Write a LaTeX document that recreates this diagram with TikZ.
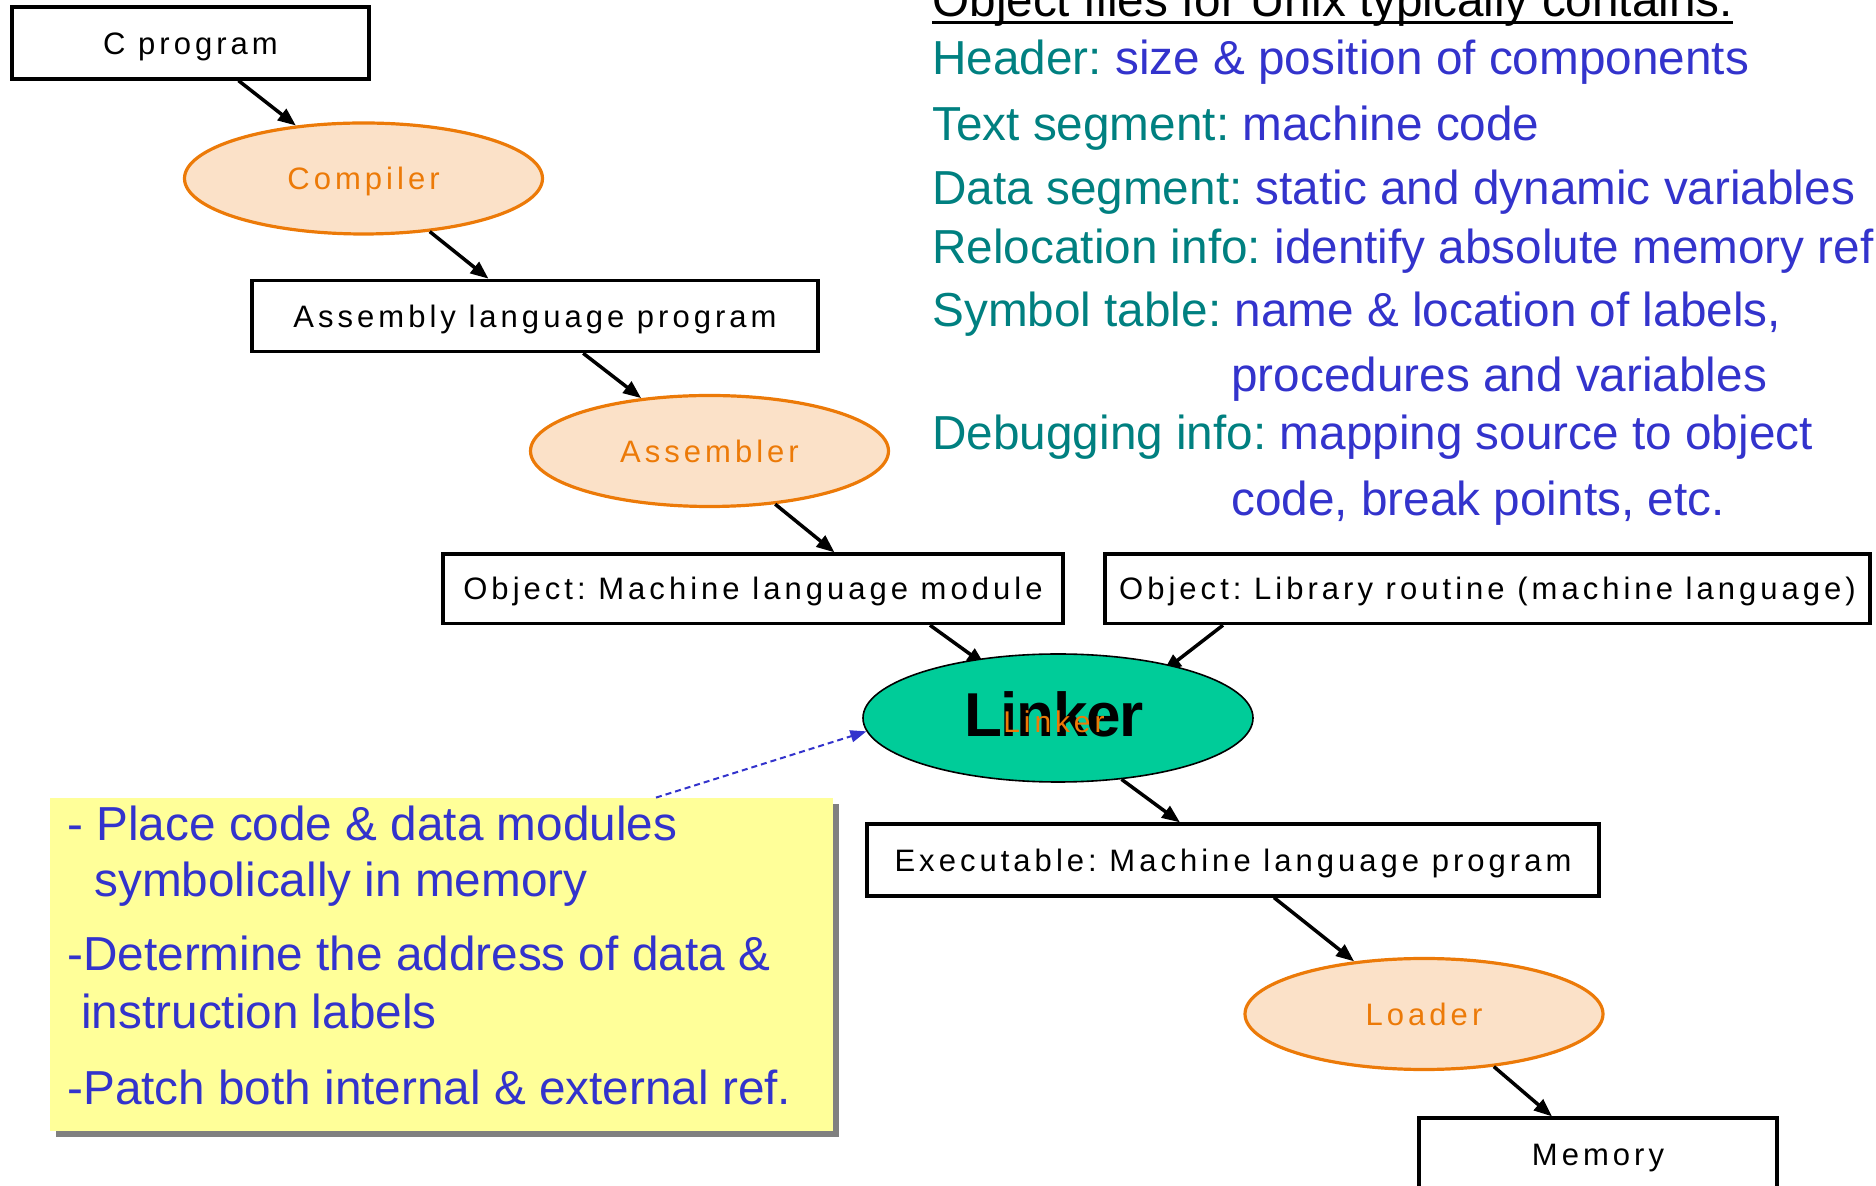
\documentclass[tikz,border=0pt]{standalone}
\usepackage{fontspec}
\setmainfont{Liberation Sans}
\newfontfamily\labelfont[LetterSpace=13]{Liberation Sans}
\newfontfamily\bigfont[LetterSpace=-2]{Liberation Sans}
\usetikzlibrary{arrows.meta,shapes.geometric,shadows}
\pgfdeclarelayer{background}
\pgfsetlayers{background,main}
\definecolor{hdrteal}{RGB}{0,128,128}
\definecolor{txtblue}{RGB}{51,51,204}
\definecolor{orng}{RGB}{236,122,8}
\definecolor{peach}{RGB}{251,225,200}
\definecolor{lnkgreen}{RGB}{0,204,153}
\definecolor{notey}{RGB}{255,255,153}
\frenchspacing
\begin{document}
\begin{tikzpicture}[x=0.5pt,y=-0.5pt,
  labeltext/.style={font=\labelfont\fontsize{15.5pt}{18pt}\selectfont,
    text height=11.1pt,text depth=0pt},
  box/.style={rectangle,draw,line width=1.6pt,inner sep=0pt,labeltext},
  tool/.style={ellipse,draw=orng,fill=peach,line width=1.6pt,inner sep=0pt,
    text=orng,labeltext,minimum width=179pt,minimum height=55.5pt},
  arr/.style={line width=1.75pt,-{Triangle[length=9pt,width=7pt]}},
  dasharr/.style={draw=txtblue,line width=1pt,dash pattern=on 3pt off 2pt,
    -{Triangle[length=8pt,width=6pt]}},
  txt/.style={anchor=base west,inner sep=0pt,
    font=\fontsize{23.85pt}{28pt}\selectfont},
  note/.style={rectangle,fill=notey,inner sep=0pt,
    drop shadow={shadow xshift=3pt,shadow yshift=-3pt,fill=black!50,opacity=1}}
]
\useasboundingbox (0,0) rectangle (1876,1186);

% ---------- translation chain ----------
\node[box,minimum width=178.5pt,minimum height=36pt] (cprog) at (190.5,43) {C program};
\node[tool] (comp) at (363.5,178.5) {Compiler};
\node[box,minimum width=283pt,minimum height=35.7pt] (asm) at (535,316) {Assembly language program};
\node[tool] (assm) at (709.5,451) {Assembler};
\node[box,minimum width=310pt,minimum height=34.8pt] (objm) at (753,588.8) {Object: Machine language module};
\node[box,minimum width=382.5pt,minimum height=34.8pt] (objl) at (1487.5,588.8) {Object:\ Library routine (machine language)};

% linker: big black title with the small orange label over it
\node[ellipse,draw,line width=0.8pt,fill=lnkgreen,inner sep=0pt,
  minimum width=195pt,minimum height=64pt] (linker) at (1058,718) {};
\node[anchor=base,inner sep=0pt,font=\bigfont\bfseries\fontsize{31pt}{36pt}\selectfont]
  (linkerbig) at (1054,737) {Linker};
\node[anchor=base,inner sep=0pt,text=orng,font=\labelfont\fontsize{15pt}{18pt}\selectfont]
  (linkersmall) at (1054,733) {Linker};

\node[box,minimum width=366pt,minimum height=36pt] (exe) at (1233,860) {Executable:\ Machine language program};
\node[tool] (load) at (1424,1014) {Loader};
\node[box,minimum width=179pt,minimum height=36pt] (mem) at (1598,1154) {Memory};

% ---------- connectors ----------
\draw[arr] (cprog) -- (comp);
\draw[arr] (comp) -- (asm);
\draw[arr] (asm) -- (assm);
\draw[arr] (assm.-39) -- ([xshift=40.75pt]objm.north);
\begin{pgfonlayer}{background}
\draw[arr,shorten >=-5pt] ([xshift=88.5pt]objm.south) -- (linker.144);
\draw[arr,shorten >=-5pt] ([xshift=-132.25pt]objl.south) -- (linker.25);
\end{pgfonlayer}
\draw[arr] (linker.-44) -- ([xshift=-26.5pt]exe.north);
\draw[arr] ([xshift=20.5pt]exe.south) -- (load.143);
\draw[arr] (load.-37) -- ([xshift=-23pt]mem.north);

% ---------- linker duties ----------
\node[note,minimum width=391.5pt,minimum height=166.5pt] (note) at (441,964.5) {};
\draw[dasharr] ([xshift=107.5pt]note.north) -- (linker.184);

\begin{scope}[text=txtblue]
\node[txt] (n1) at (67,841) {- Place code \& data modules};
\node[txt] (n2) at (94,897) {symbolically in memory};
\node[txt] (n3) at (67,971) {-Determine the address of data \&};
\node[txt] (n4) at (81,1029) {instruction labels};
\node[txt] (n5) at (67,1105) {-Patch both internal \& external ref.};
\end{scope}

% ---------- object file contents ----------
\node[txt] (title) at (932,17) {Object files for Unix typically contains:};
\draw[line width=1.5pt] ([yshift=-2.6pt]title.base west) -- ([yshift=-2.6pt]title.base east);
\node[txt] (r1) at (932,75) {\textcolor{hdrteal}{Header:} \textcolor{txtblue}{size \& position of components}};
\node[txt] (r2) at (932,141) {\textcolor{hdrteal}{Text segment:} \textcolor{txtblue}{machine code}};
\node[txt] (r3) at (932,205) {\textcolor{hdrteal}{Data segment:} \textcolor{txtblue}{static and dynamic variables}};
\node[txt] (r4) at (932,264) {\textcolor{hdrteal}{Relocation info:} \textcolor{txtblue}{identify absolute memory ref}};
\node[txt] (r5) at (932,327) {\textcolor{hdrteal}{Symbol table:} \textcolor{txtblue}{name \& location of labels,}};
\node[txt,text=txtblue] (r6) at (1231,392) {procedures and variables};
\node[txt] (r7) at (932,450) {\textcolor{hdrteal}{Debugging info:} \textcolor{txtblue}{mapping source to object}};
\node[txt,text=txtblue] (r8) at (1231,516) {code, break points, etc.};
\end{tikzpicture}
\end{document}
